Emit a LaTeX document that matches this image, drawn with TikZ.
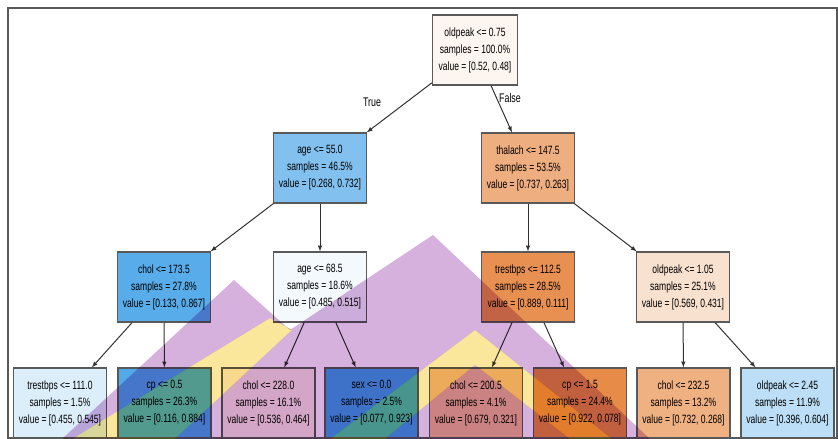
\documentclass[tikz,border=0pt]{standalone}
\usepackage{fontspec}
\usepackage{tikz}
\usetikzlibrary{positioning}
\newfontfamily\treefont[FakeStretch=0.71]{Liberation Sans}
\definecolor{treeorange}{HTML}{E58139}
\definecolor{treeblue}{HTML}{399DE5}
\definecolor{markpurple}{HTML}{D6B1DD}
\definecolor{markyellow}{HTML}{FAE79C}

\begin{document}
\begin{tikzpicture}[x=1pt, y=-1pt,
    splitbox/.style={draw=black!65, line width=1.2pt, rectangle, align=center, minimum width=93pt, minimum height=70pt, inner sep=2pt, font=\treefont\fontsize{12}{17}\selectfont},
    branch/.style={draw=black!80, line width=1pt, -latex},
    edgelbl/.style={font=\treefont\fontsize{12.5}{14}\selectfont}
]

\useasboundingbox (0,0) rectangle (838,439);
\draw[line width=2pt, black!65] (7.5,7.5) rectangle (836.5,437.5);

% root and first split
\node[splitbox, fill=treeorange!8, minimum width=85pt] (oldpeakA) at (475,50) {oldpeak <= 0.75\\samples = 100.0\%\\value = [0.52, 0.48]};
\node[splitbox, fill=treeblue!63] (ageA) at (320,168) {age <= 55.0\\samples = 46.5\%\\value = [0.268, 0.732]};
\node[splitbox, fill=treeorange!64] (thalach) at (528,168) {thalach <= 147.5\\samples = 53.5\%\\value = [0.737, 0.263]};

% second level
\node[splitbox, fill=treeblue!85] (cholA) at (164,287) {chol <= 173.5\\samples = 27.8\%\\value = [0.133, 0.867]};
\node[splitbox, fill=treeblue!6] (ageB) at (320,287) {age <= 68.5\\samples = 18.6\%\\value = [0.485, 0.515]};
\node[splitbox, fill=treeorange!88] (trestbpsA) at (528,287) {trestbps <= 112.5\\samples = 28.5\%\\value = [0.889, 0.111]};
\node[splitbox, fill=treeorange!24] (oldpeakB) at (683,287) {oldpeak <= 1.05\\samples = 25.1\%\\value = [0.569, 0.431]};

% third level
\node[splitbox, fill=treeblue!17] (trestbpsB) at (60,403) {trestbps <= 111.0\\samples = 1.5\%\\value = [0.455, 0.545]};
\node[splitbox, fill=treeblue!87] (cpA) at (164.5,403) {cp <= 0.5\\samples = 26.3\%\\value = [0.116, 0.884]};
\node[splitbox, fill=treeorange!13] (cholB) at (268.5,403) {chol <= 228.0\\samples = 16.1\%\\value = [0.536, 0.464]};
\node[splitbox, fill=treeblue!92] (sex) at (371.5,403) {sex <= 0.0\\samples = 2.5\%\\value = [0.077, 0.923]};
\node[splitbox, fill=treeorange!53] (cholC) at (476,403) {chol <= 200.5\\samples = 4.1\%\\value = [0.679, 0.321]};
\node[splitbox, fill=treeorange!92] (cpB) at (580,403) {cp <= 1.5\\samples = 24.4\%\\value = [0.922, 0.078]};
\node[splitbox, fill=treeorange!63] (cholD) at (683.5,403) {chol <= 232.5\\samples = 13.2\%\\value = [0.732, 0.268]};
\node[splitbox, fill=treeblue!34] (oldpeakC) at (787.5,403) {oldpeak <= 2.45\\samples = 11.9\%\\value = [0.396, 0.604]};

\foreach \a/\b in {oldpeakA/ageA, oldpeakA/thalach, ageA/cholA, ageA/ageB, thalach/trestbpsA, thalach/oldpeakB, cholA/trestbpsB, cholA/cpA, ageB/cholB, ageB/sex, trestbpsA/cholC, trestbpsA/cpB, oldpeakB/cholD, oldpeakB/oldpeakC}
    \draw[branch] (\a) -- (\b);

\node[edgelbl] (truelbl) at (372,102) {True};
\node[edgelbl] (falselbl) at (510,98) {False};

% watermark over the lower part
\begin{scope}[blend mode=multiply]
\fill[markpurple, even odd rule] (62,439) -- (234,280) -- (290,330) -- (433,235) -- (650,439) -- cycle
    (72,439) -- (270,318) -- (292,330) -- (175,439) -- cycle
    (330,439) -- (475,330) -- (612,439) -- (570,439) -- (475,365) -- (385,439) -- cycle;
\fill[markyellow] (72,439) -- (270,318) -- (292,330) -- (175,439) -- cycle;
\fill[markyellow] (330,439) -- (475,330) -- (612,439) -- (570,439) -- (475,365) -- (385,439) -- cycle;
\end{scope}

\end{tikzpicture}
\end{document}
